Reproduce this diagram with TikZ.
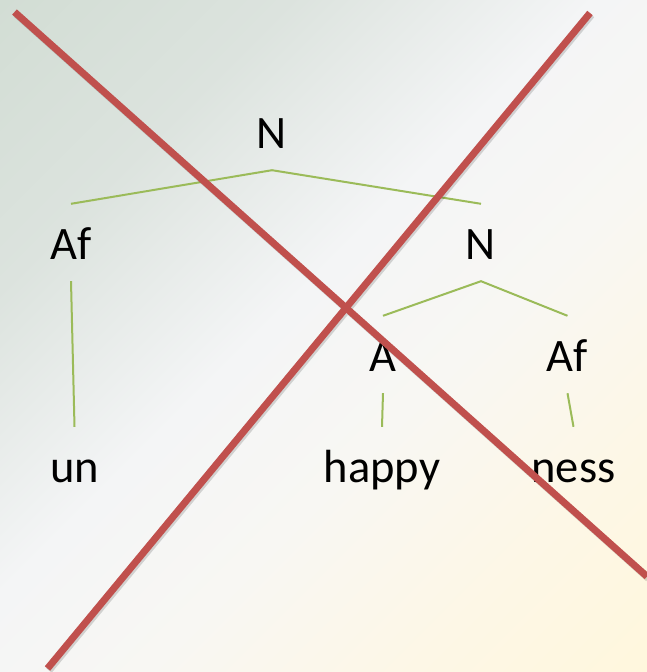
\documentclass[tikz,border=0pt]{standalone}
\usepackage{fontspec}
\setmainfont{Carlito}
\definecolor{branchgreen}{HTML}{9BBB59}
\definecolor{crossred}{HTML}{C0504D}
\definecolor{bgA}{HTML}{D2DDD4}
\definecolor{bgB}{HTML}{DCE3DE}
\definecolor{bgC}{HTML}{F4F5F6}
\definecolor{bgD}{HTML}{F8F7F3}
\definecolor{bgE}{HTML}{FDF7E6}
\definecolor{bgF}{HTML}{FFF7DD}
\pgfdeclarehorizontalshading{bgdiag}{100bp}{color(0bp)=(bgA); color(25bp)=(bgA); color(36bp)=(bgB); color(47.5bp)=(bgC); color(56bp)=(bgD); color(66bp)=(bgE); color(75bp)=(bgF); color(100bp)=(bgF)}
\begin{document}
\begin{tikzpicture}[
  x=1pt, y=-1pt,
  cat/.style={inner sep=0pt, text height=55pt, text depth=22pt, anchor=base, font=\fontsize{46.5}{56}\selectfont},
  branch/.style={draw=branchgreen, line width=2pt},
  cross/.style={draw=crossred, line width=7pt},
  crossshadow/.style={draw=black, opacity=0.15, line width=7pt}
]
  \useasboundingbox (0,0) rectangle (647,672);
  \begin{scope}
    \clip (0,0) rectangle (647,672);
    \shade[shading=bgdiag, transform canvas={shift={(323.5pt,-336pt)}, rotate=-45}] (-466pt,-466pt) rectangle (466pt,466pt);
  \end{scope}

  \node[cat] (ntop) at (272,148) {N};
  \node[cat] (afl) at (71,259) {Af};
  \node[cat] (nright) at (481,259) {N};
  \node[cat] (adj) at (383,371) {A};
  \node[cat] (afr) at (567.5,371) {Af};
  \node[cat] (un) at (74.5,482) {un};
  \node[cat] (happy) at (382,482) {happy};
  \node[cat] (ness) at (573.5,482) {ness};

  \draw[branch] (afl.north) -- (ntop.south) -- (nright.north);
  \draw[branch] (afl.south) -- (un.north);
  \draw[branch] (adj.north) -- (nright.south) -- (afr.north);
  \draw[branch] (adj.south) -- (happy.north);
  \draw[branch] (afr.south) -- (ness.north);

  % the cross over the tree
  \coordinate (crossA) at (14.5,12);
  \coordinate (crossB) at (647,576.5);
  \coordinate (crossC) at (590,13);
  \coordinate (crossD) at (47.5,668.5);
  \draw[crossshadow, transform canvas={xshift=1.5pt, yshift=-2pt}] (crossA) -- (crossB) (crossC) -- (crossD);
  \draw[cross] (crossA) -- (crossB);
  \draw[cross] (crossC) -- (crossD);
\end{tikzpicture}
\end{document}
